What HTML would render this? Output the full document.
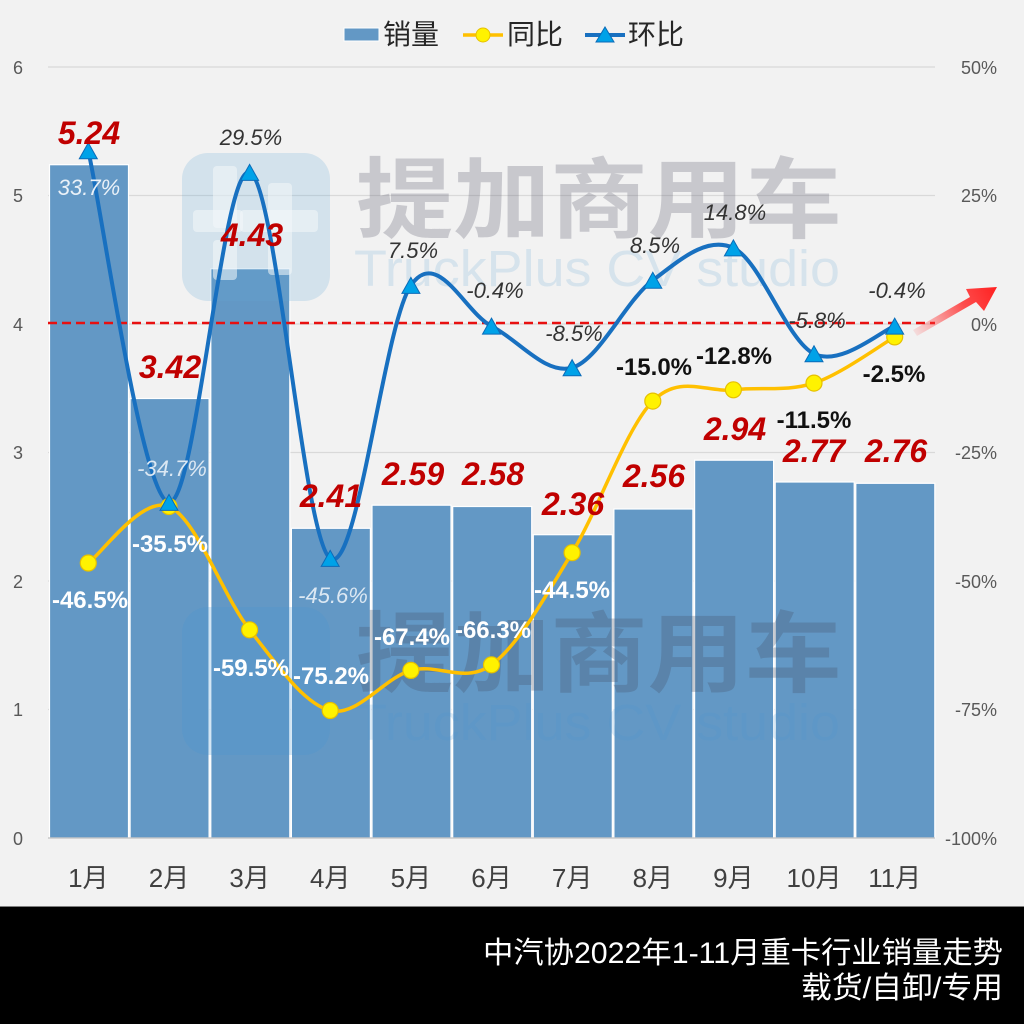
<!DOCTYPE html>
<html>
<head>
<meta charset="utf-8">
<style>
html,body{margin:0;padding:0;background:#F2F2F2;}
svg{display:block;}
text{font-family:"Liberation Sans","Noto Sans CJK SC",sans-serif;}
</style>
</head>
<body>
<svg width="1024" height="1024" viewBox="0 0 1024 1024" xmlns="http://www.w3.org/2000/svg">
<defs>
<linearGradient id="arr" x1="913" y1="332" x2="997" y2="287" gradientUnits="userSpaceOnUse">
<stop offset="0" stop-color="#FF4040" stop-opacity="0.1"/>
<stop offset="0.6" stop-color="#FF3030" stop-opacity="0.85"/>
<stop offset="1" stop-color="#FF2020" stop-opacity="1"/>
</linearGradient>
</defs>
<rect x="0" y="0" width="1024" height="1024" fill="#F2F2F2"/>

<!-- gridlines -->
<g stroke="#D9D9D9" stroke-width="1.2">
<line x1="48" y1="67" x2="935" y2="67"/>
<line x1="48" y1="195.5" x2="935" y2="195.5"/>
<line x1="48" y1="324" x2="935" y2="324"/>
<line x1="48" y1="452.5" x2="935" y2="452.5"/>
<line x1="48" y1="581" x2="935" y2="581"/>
<line x1="48" y1="709.5" x2="935" y2="709.5"/>
</g>

<!-- bars -->
<g fill="#6398C5" stroke="#FFFFFF" stroke-width="1.2">
<rect x="49.5" y="164.7" width="79" height="673.3"/>
<rect x="130.1" y="398.5" width="79" height="439.5"/>
<rect x="210.8" y="268.7" width="79" height="569.3"/>
<rect x="291.4" y="528.3" width="79" height="309.7"/>
<rect x="372.0" y="505.2" width="79" height="332.8"/>
<rect x="452.7" y="506.5" width="79" height="331.5"/>
<rect x="533.3" y="534.7" width="79" height="303.3"/>
<rect x="613.9" y="509.0" width="79" height="329.0"/>
<rect x="694.6" y="460.2" width="79" height="377.8"/>
<rect x="775.2" y="482.0" width="79" height="356.0"/>
<rect x="855.8" y="483.3" width="79" height="354.7"/>
</g>
<line x1="48" y1="838" x2="935" y2="838" stroke="#BFBFBF" stroke-width="1.2"/>

<!-- watermarks -->
<g id="wm">
<rect x="182" y="153" width="148" height="148" rx="26" fill="rgb(100,170,215)" fill-opacity="0.22"/>
<g fill="#F4F7FA" fill-opacity="0.55">
<rect x="213" y="166" width="24" height="62" rx="4"/>
<rect x="193" y="210" width="50" height="22" rx="4"/>
<rect x="268" y="183" width="24" height="92" rx="4"/>
<rect x="240" y="210" width="78" height="22" rx="4"/>
<rect x="213" y="240" width="24" height="40" rx="4"/>
</g>
<text x="356" y="231" font-size="88" font-weight="bold" fill="rgb(95,95,110)" fill-opacity="0.28" textLength="486" lengthAdjust="spacingAndGlyphs">提加商用车</text>
<text x="354" y="286" font-size="51" fill="rgb(90,160,210)" fill-opacity="0.18" textLength="486" lengthAdjust="spacingAndGlyphs">TruckPlus CV studio</text>
</g>
<g transform="translate(0,454)">
<rect x="182" y="153" width="148" height="148" rx="26" fill="rgb(70,150,215)" fill-opacity="0.22"/>
<text x="356" y="231" font-size="88" font-weight="bold" fill="rgb(70,80,100)" fill-opacity="0.28" textLength="486" lengthAdjust="spacingAndGlyphs">提加商用车</text>
<text x="354" y="286" font-size="51" fill="rgb(70,150,210)" fill-opacity="0.18" textLength="486" lengthAdjust="spacingAndGlyphs">TruckPlus CV studio</text>
</g>

<!-- red dashed zero line -->
<line x1="48" y1="323" x2="935" y2="323" stroke="#E81010" stroke-width="2.5" stroke-dasharray="9,5"/>

<!-- red arrow -->
<polygon points="913,330 970,297 966,289 997,287 984,311 976,302 917,336" fill="url(#arr)"/>

<!-- 同比 line -->
<path d="M88.3,563.0 C101.7,553.6 142.1,495.4 169,506.5 C195.9,517.6 222.7,595.8 249.6,629.8 C276.5,663.8 303.3,703.7 330.2,710.5 C357.1,717.3 384.0,678.0 410.9,670.4 C437.8,662.8 464.6,684.4 491.5,664.8 C518.4,645.2 545.2,596.65 572.1,552.7 C599.0,508.75 625.9,428.25 652.8,401.1 C679.7,373.95 706.5,392.8 733.4,389.8 C760.3,386.8 787.1,391.9 814,383.1 C840.9,374.3 881.3,344.6 894.7,336.9" fill="none" stroke="#FFC000" stroke-width="3.5"/>

<!-- 环比 line -->
<path d="M88.3,150.8 C101.7,209.4 142.1,498.8 169,502.4 C195.9,506.0 222.7,163.1 249.6,172.4 C276.5,181.7 303.3,539.6 330.2,558.4 C357.1,577.2 384.0,324.1 410.9,285.4 C437.8,246.7 464.6,312.4 491.5,326.1 C518.4,339.8 545.2,375.3 572.1,367.7 C599.0,360.1 625.9,300.3 652.8,280.3 C679.7,260.3 706.5,235.65 733.4,247.9 C760.3,260.15 787.1,340.8 814,353.8 C840.9,366.8 881.3,330.7 894.7,326.1" fill="none" stroke="#1870C0" stroke-width="4"/>

<!-- 同比 markers -->
<g fill="#FFF200" stroke="#E6C000" stroke-width="1.2">
<circle cx="88.3" cy="563.0" r="8"/>
<circle cx="169" cy="506.5" r="8"/>
<circle cx="249.6" cy="629.8" r="8"/>
<circle cx="330.2" cy="710.5" r="8"/>
<circle cx="410.9" cy="670.4" r="8"/>
<circle cx="491.5" cy="664.8" r="8"/>
<circle cx="572.1" cy="552.7" r="8"/>
<circle cx="652.8" cy="401.1" r="8"/>
<circle cx="733.4" cy="389.8" r="8"/>
<circle cx="814" cy="383.1" r="8"/>
<circle cx="894.7" cy="336.9" r="8"/>
</g>

<!-- 环比 markers -->
<g fill="#00A2E8" stroke="#0B6BB8" stroke-width="1">
<polygon points="79.3,158.8 97.3,158.8 88.3,142.8"/>
<polygon points="160,510.4 178,510.4 169,494.4"/>
<polygon points="240.6,180.4 258.6,180.4 249.6,164.4"/>
<polygon points="321.2,566.4 339.2,566.4 330.2,550.4"/>
<polygon points="401.9,293.4 419.9,293.4 410.9,277.4"/>
<polygon points="482.5,334.1 500.5,334.1 491.5,318.1"/>
<polygon points="563.1,375.7 581.1,375.7 572.1,359.7"/>
<polygon points="643.8,288.3 661.8,288.3 652.8,272.3"/>
<polygon points="724.4,255.9 742.4,255.9 733.4,239.9"/>
<polygon points="805,361.8 823,361.8 814,345.8"/>
<polygon points="885.7,334.1 903.7,334.1 894.7,318.1"/>
</g>

<!-- sales labels -->
<g font-size="32" font-weight="bold" font-style="italic" fill="#C00000" text-anchor="middle">
<text x="89" y="144">5.24</text>
<text x="170" y="378">3.42</text>
<text x="252" y="246">4.43</text>
<text x="331" y="507">2.41</text>
<text x="413" y="485">2.59</text>
<text x="493" y="485">2.58</text>
<text x="573" y="515">2.36</text>
<text x="654" y="487">2.56</text>
<text x="735" y="440">2.94</text>
<text x="814" y="462">2.77</text>
<text x="896" y="462">2.76</text>
</g>

<!-- 环比 labels -->
<g font-size="22" font-style="italic" text-anchor="middle">
<text x="89" y="195" fill="#EAF1F8">33.7%</text>
<text x="251" y="145" fill="#333333">29.5%</text>
<text x="172" y="476" fill="#DCE8F3">-34.7%</text>
<text x="333" y="603" fill="#DCE8F3">-45.6%</text>
<text x="413" y="258" fill="#333333">7.5%</text>
<text x="495" y="298" fill="#333333">-0.4%</text>
<text x="574" y="341" fill="#333333">-8.5%</text>
<text x="655" y="253" fill="#333333">8.5%</text>
<text x="735" y="220" fill="#333333">14.8%</text>
<text x="817" y="328" fill="#333333">-5.8%</text>
<text x="897" y="298" fill="#333333">-0.4%</text>
</g>

<!-- 同比 labels -->
<g font-size="24" font-weight="bold" text-anchor="middle">
<text x="90" y="608" fill="#FFFFFF">-46.5%</text>
<text x="170" y="552" fill="#FFFFFF">-35.5%</text>
<text x="251" y="676" fill="#FFFFFF">-59.5%</text>
<text x="331" y="684" fill="#FFFFFF">-75.2%</text>
<text x="412" y="645" fill="#FFFFFF">-67.4%</text>
<text x="493" y="638" fill="#FFFFFF">-66.3%</text>
<text x="572" y="598" fill="#FFFFFF">-44.5%</text>
<text x="654" y="375" fill="#111111">-15.0%</text>
<text x="734" y="364" fill="#111111">-12.8%</text>
<text x="814" y="428" fill="#111111">-11.5%</text>
<text x="894" y="382" fill="#111111">-2.5%</text>
</g>

<!-- left axis labels -->
<g font-size="18" fill="#595959" text-anchor="middle">
<text x="18" y="74">6</text>
<text x="18" y="202">5</text>
<text x="18" y="331">4</text>
<text x="18" y="459">3</text>
<text x="18" y="588">2</text>
<text x="18" y="716">1</text>
<text x="18" y="845">0</text>
</g>
<!-- right axis labels -->
<g font-size="18" fill="#595959" text-anchor="end">
<text x="997" y="74">50%</text>
<text x="997" y="202">25%</text>
<text x="997" y="331">0%</text>
<text x="997" y="459">-25%</text>
<text x="997" y="588">-50%</text>
<text x="997" y="716">-75%</text>
<text x="997" y="845">-100%</text>
</g>

<!-- category labels -->
<g font-size="26" fill="#404040" text-anchor="middle">
<text x="88.3" y="887">1月</text>
<text x="169" y="887">2月</text>
<text x="249.6" y="887">3月</text>
<text x="330.2" y="887">4月</text>
<text x="410.9" y="887">5月</text>
<text x="491.5" y="887">6月</text>
<text x="572.1" y="887">7月</text>
<text x="652.8" y="887">8月</text>
<text x="733.4" y="887">9月</text>
<text x="814" y="887">10月</text>
<text x="894.7" y="887">11月</text>
</g>

<!-- legend -->
<rect x="344" y="28" width="35" height="13" fill="#6398C5" stroke="#FFFFFF" stroke-width="1"/>
<text x="383" y="44" font-size="28" fill="#262626">销量</text>
<line x1="463" y1="35" x2="503" y2="35" stroke="#FFC000" stroke-width="3.5"/>
<circle cx="483" cy="35" r="7" fill="#FFF200" stroke="#E6C000" stroke-width="1"/>
<text x="507" y="44" font-size="28" fill="#262626">同比</text>
<line x1="585" y1="35" x2="625" y2="35" stroke="#1870C0" stroke-width="4"/>
<polygon points="596,42 614,42 605,27" fill="#00A2E8" stroke="#0B6BB8" stroke-width="1"/>
<text x="628" y="44" font-size="28" fill="#262626">环比</text>

<!-- footer -->
<rect x="0" y="906" width="1024" height="1" fill="#7F7F7F"/>
<rect x="0" y="907" width="1024" height="117" fill="#000000"/>
<text x="1003" y="963" font-size="30" fill="#FFFFFF" text-anchor="end" textLength="520" lengthAdjust="spacingAndGlyphs">中汽协2022年1-11月重卡行业销量走势</text>
<text x="1003" y="998" font-size="30" fill="#FFFFFF" text-anchor="end" textLength="202" lengthAdjust="spacingAndGlyphs">载货/自卸/专用</text>
</svg>
</body>
</html>
